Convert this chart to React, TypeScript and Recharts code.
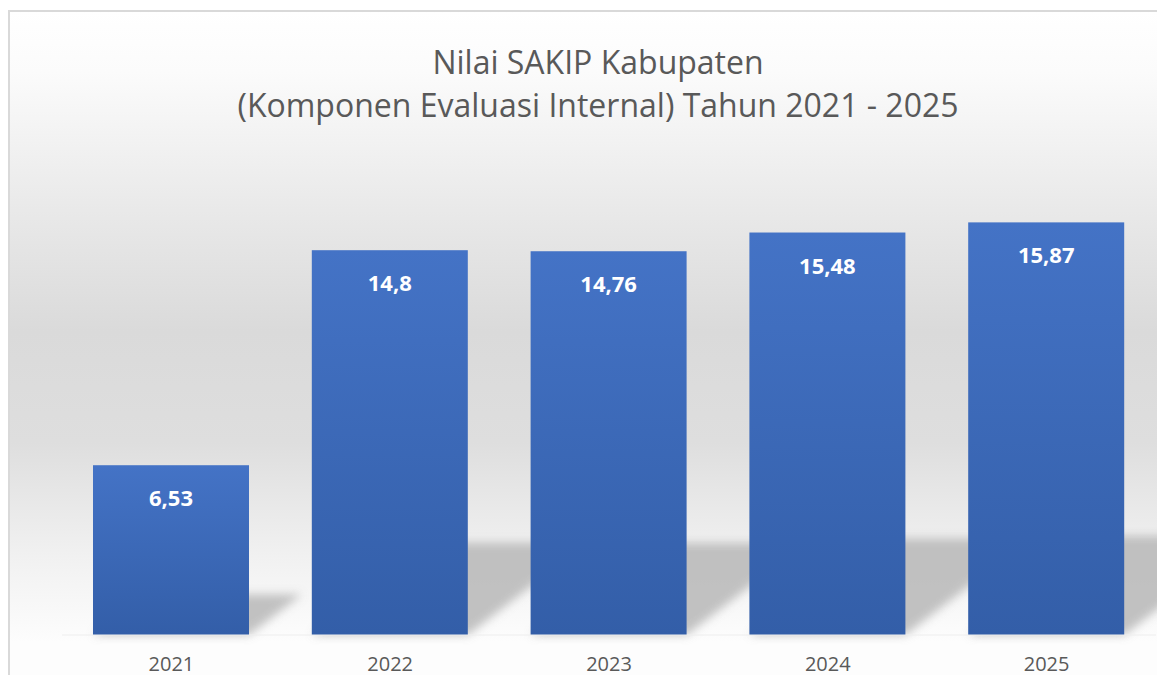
import * as React from 'react';
import { BarChart, Bar, XAxis, YAxis, LabelList } from 'recharts';

const years = ['2021', '2022', '2023', '2024', '2025'];
const values = [6.53, 14.8, 14.76, 15.48, 15.87];
const valueLabels = ['6,53', '14,8', '14,76', '15,48', '15,87'];
const titleLines = ['Nilai SAKIP Kabupaten', '(Komponen Evaluasi Internal) Tahun 2021 - 2025'];

const FONT = '"Open Sans", "Noto Sans", sans-serif';

const data = years.map((year, i) => ({ year, value: values[i], label: valueLabels[i] }));

// bar with a soft perspective shadow thrown to the right
const ShadowBar = (props: any) => {
    const { x, y, width, height } = props;
    if (!height || height <= 0) return null;
    const base = y + height;
    const hs = height * 0.24; // shadow height
    const dx = hs * 1.3; // shadow lean
    const pts = [
        [x, base],
        [x + dx, base - hs],
        [x + width + dx, base - hs],
        [x + width, base],
    ].map(p => p.join(',')).join(' ');
    return (
        <g>
            <polygon points={pts} fill='#b8b8b8' opacity={0.85} filter='url(#shadowBlur)' />
            <rect x={x} y={y} width={width} height={height} fill='url(#barFill)' />
        </g>
    );
};

const ValueLabel = (props: any) => {
    const { x, y, width, value } = props;
    return (
        <text x={x + width / 2} y={y + 32} fill='#ffffff' textAnchor='middle'
            dominantBaseline='central' fontFamily={FONT} fontWeight={700} fontSize={22}>
            {value}
        </text>
    );
};

export default function App() {
    return (
        <div style={{
            position: 'absolute', left: 8, top: 10, width: 1176, height: 700,
            border: '2px solid #d9d9d9',
            background: 'linear-gradient(to bottom, #ffffff 0px, #fbfbfb 60px, #eaeaea 190px, #dadada 320px, #dedede 430px, #f1f1f1 545px, #fafafa 610px, #fdfdfd 630px, #fdfdfd 700px)',
        }}>
            <div style={{
                position: 'absolute', left: 0, top: 0, width: 1176, paddingTop: 28,
                textAlign: 'center', color: '#595959', fontFamily: FONT, fontSize: 32, lineHeight: '43px',
            }}>
                {titleLines.map(t => <div key={t}>{t}</div>)}
            </div>
            <div style={{ position: 'absolute', left: 0, top: 0 }}>
                <BarChart width={1176} height={700} data={data}
                    margin={{ top: 168, right: 30, left: 52, bottom: 37 }}>
                    <defs>
                        <linearGradient id='barFill' x1='0' y1='0' x2='0' y2='1'>
                            <stop offset='0%' stopColor='#4473c6' />
                            <stop offset='100%' stopColor='#335ea8' />
                        </linearGradient>
                        <filter id='shadowBlur' x='-30%' y='-60%' width='160%' height='220%'>
                            <feGaussianBlur stdDeviation='5' />
                        </filter>
                    </defs>
                    <XAxis dataKey='year' height={40} tickLine={false} tickSize={0} tickMargin={22}
                        axisLine={{ stroke: '#eeeeee' }}
                        tick={{ fill: '#595959', fontSize: 20, fontFamily: FONT }} />
                    <YAxis hide domain={[0, 17.5]} />
                    <Bar dataKey='value' barSize={156} shape={<ShadowBar />} isAnimationActive={false}>
                        <LabelList dataKey='label' content={<ValueLabel />} />
                    </Bar>
                </BarChart>
            </div>
        </div>
    );
}
